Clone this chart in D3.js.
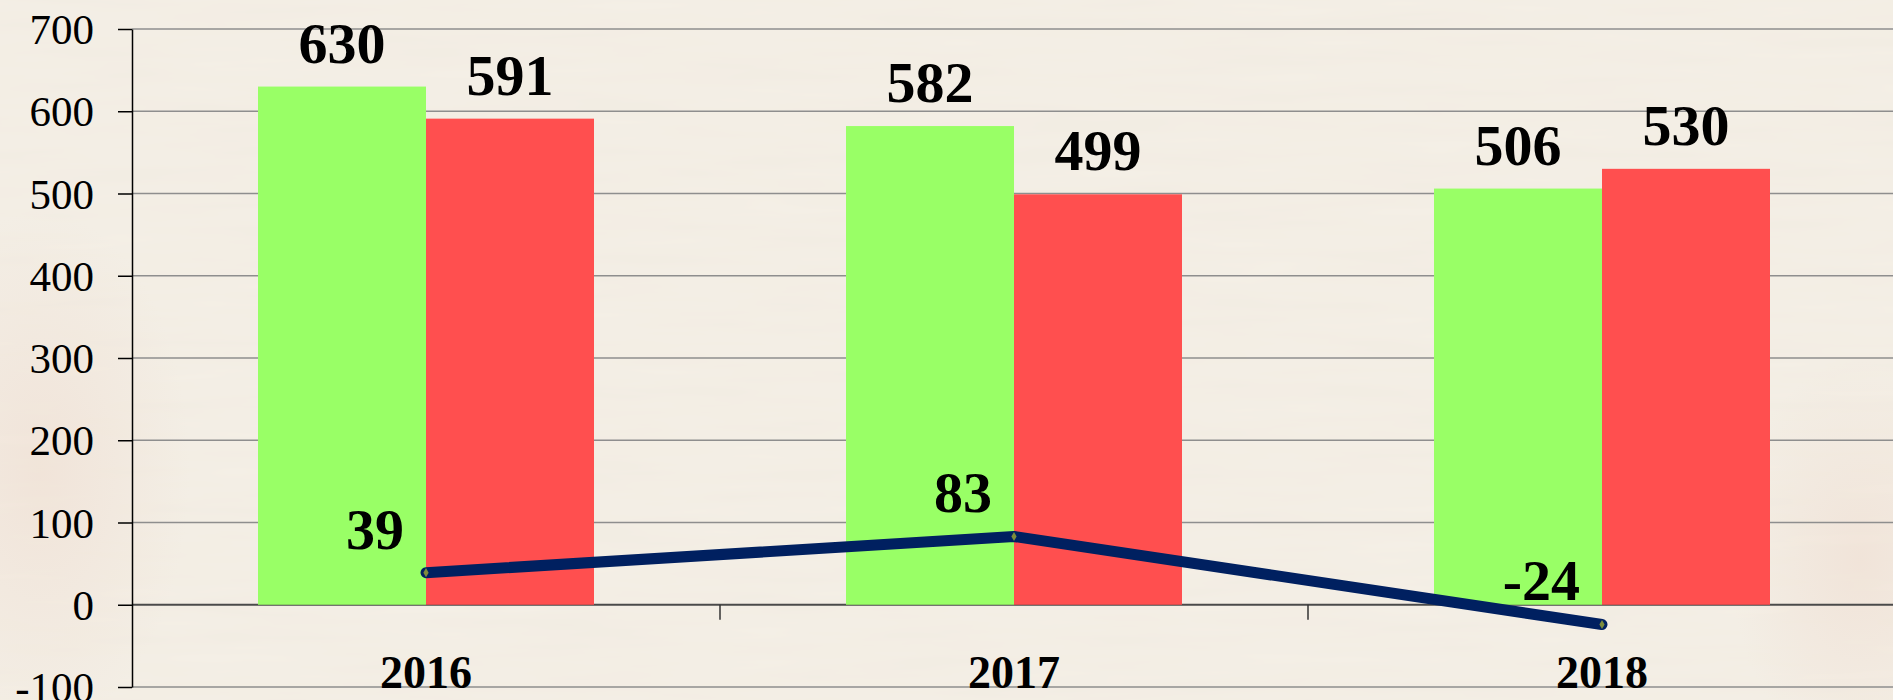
<!doctype html>
<html lang="en">
<head>
  <meta charset="utf-8">
  <title>2016 - 2018</title>
  <style>
    body { margin: 0; background: #f3eee5; }
    #chart { width: 1893px; height: 700px; overflow: hidden; }
    .grid line { stroke: #8e8e8e; stroke-width: 1.5; }
    .grid line.zero { stroke: #4a4a4a; stroke-width: 2; }
    .y-axis text { font-family: 'Liberation Serif', 'Times New Roman', serif; font-size: 43px; fill: #000; }
    .y-axis line, .y-axis path { stroke: #000; stroke-width: 1.5; }
    .cat-label { font-family: 'Liberation Serif', 'Times New Roman', serif; font-size: 46px; font-weight: bold; }
    .value-label { font-family: 'Liberation Serif', 'Times New Roman', serif; font-size: 58px; font-weight: bold; }
  </style>
</head>
<body>
<div id="chart"></div>

<script src="https://d3js.org/d3.v7.min.js"></script>
<script>
  // chart data
  const years = ['2016', '2017', '2018'];
  const greenValues = [630, 582, 506];
  const redValues = [591, 499, 530];
  const diffValues = [39, 83, -24];
  const yTicks = [-100, 0, 100, 200, 300, 400, 500, 600, 700];

  const width = 1893;
  const height = 700;

  const svg = d3.select('#chart')
    .append('svg')
    .attr('width', width)
    .attr('height', height);

  // paper-like background
  const defs = svg.append('defs');
  const paper = defs.append('filter').attr('id', 'paper').attr('x', 0).attr('y', 0).attr('width', '100%').attr('height', '100%');
  paper.append('feTurbulence')
    .attr('type', 'fractalNoise')
    .attr('baseFrequency', '0.006 0.06')
    .attr('numOctaves', 3)
    .attr('seed', 7);
  paper.append('feColorMatrix')
    .attr('type', 'matrix')
    .attr('values', '0 0 0 0 0.80  0 0 0 0 0.74  0 0 0 0 0.64  0 0 0 0.2 -0.02');

  const blush = defs.append('radialGradient').attr('id', 'blush');
  blush.append('stop').attr('offset', '0%').attr('stop-color', '#efd8cb').attr('stop-opacity', 0.45);
  blush.append('stop').attr('offset', '100%').attr('stop-color', '#efd8cb').attr('stop-opacity', 0);

  svg.append('rect').attr('width', width).attr('height', height).attr('fill', '#f4efe6');
  svg.append('ellipse').attr('cx', 40).attr('cy', 470).attr('rx', 150).attr('ry', 260).attr('fill', 'url(#blush)');
  svg.append('ellipse').attr('cx', 1860).attr('cy', 560).attr('rx', 130).attr('ry', 200).attr('fill', 'url(#blush)');
  svg.append('rect').attr('width', width).attr('height', height).attr('filter', 'url(#paper)');

  // scales
  const x = d3.scaleBand()
    .domain(years)
    .range([132, 132 + 588 * 3])
    .padding(0);

  const y = d3.scaleLinear()
    .domain([-100, 700])
    .range([687, 29]);

  const barW = x.bandwidth() / 3.5;  // gap width 150%
  const groupOffset = barW * 0.75;
  const centerX = d => x(d) + x.bandwidth() / 2;

  // gridlines
  svg.append('g')
    .attr('class', 'grid')
    .selectAll('line')
    .data(yTicks)
    .join('line')
    .classed('zero', d => d === 0)
    .attr('x1', 132)
    .attr('x2', width)
    .attr('y1', d => y(d))
    .attr('y2', d => y(d));

  // y axis (plain hyphen for negatives, like the original)
  svg.append('g')
    .attr('class', 'y-axis')
    .attr('transform', 'translate(132,0)')
    .call(d3.axisLeft(y).tickValues(yTicks).tickFormat(d => String(d)).tickSize(14).tickSizeOuter(0).tickPadding(24))
    .call(g => g.selectAll('text').attr('dy', '0.34em'));

  // category separator ticks on the zero line
  svg.append('g')
    .selectAll('line')
    .data(years.slice(1))
    .join('line')
    .attr('x1', d => x(d))
    .attr('x2', d => x(d))
    .attr('y1', y(0))
    .attr('y2', y(0) + 15)
    .attr('stroke', '#333')
    .attr('stroke-width', 1.5);

  // bars
  const series = [
    { values: greenValues, color: '#99ff66', offset: 0 },
    { values: redValues, color: '#ff4f4f', offset: 1 }
  ];

  series.forEach(s => {
    svg.append('g')
      .selectAll('rect')
      .data(years)
      .join('rect')
      .attr('x', (d, i) => x(d) + groupOffset + s.offset * barW)
      .attr('width', barW)
      .attr('y', (d, i) => y(s.values[i]))
      .attr('height', (d, i) => y(0) - y(s.values[i]))
      .attr('fill', s.color);

    svg.append('g')
      .selectAll('text')
      .data(years)
      .join('text')
      .attr('class', 'value-label')
      .attr('text-anchor', 'middle')
      .attr('x', (d, i) => x(d) + groupOffset + s.offset * barW + barW / 2)
      .attr('y', (d, i) => y(s.values[i]) - 24)
      .text((d, i) => s.values[i]);
  });

  // difference line
  const line = d3.line()
    .x((d, i) => centerX(years[i]))
    .y(d => y(d));

  svg.append('path')
    .datum(diffValues)
    .attr('d', line)
    .attr('fill', 'none')
    .attr('stroke', '#002060')
    .attr('stroke-width', 11)
    .attr('stroke-linecap', 'round')
    .attr('stroke-linejoin', 'round');

  svg.append('g')
    .selectAll('path')
    .data(diffValues)
    .join('path')
    .attr('d', d3.symbol(d3.symbolDiamond).size(24))
    .attr('transform', (d, i) => `translate(${centerX(years[i])},${y(d)})`)
    .attr('fill', '#7d8c3c');

  svg.append('g')
    .selectAll('text')
    .data(diffValues)
    .join('text')
    .attr('class', 'value-label')
    .attr('text-anchor', 'end')
    .attr('x', (d, i) => centerX(years[i]) - 22)
    .attr('y', d => y(d) - 24)
    .text(d => d);

  // category labels
  svg.append('g')
    .selectAll('text')
    .data(years)
    .join('text')
    .attr('class', 'cat-label')
    .attr('text-anchor', 'middle')
    .attr('x', d => centerX(d))
    .attr('y', 688)
    .text(d => d);
</script>
</body>
</html>
